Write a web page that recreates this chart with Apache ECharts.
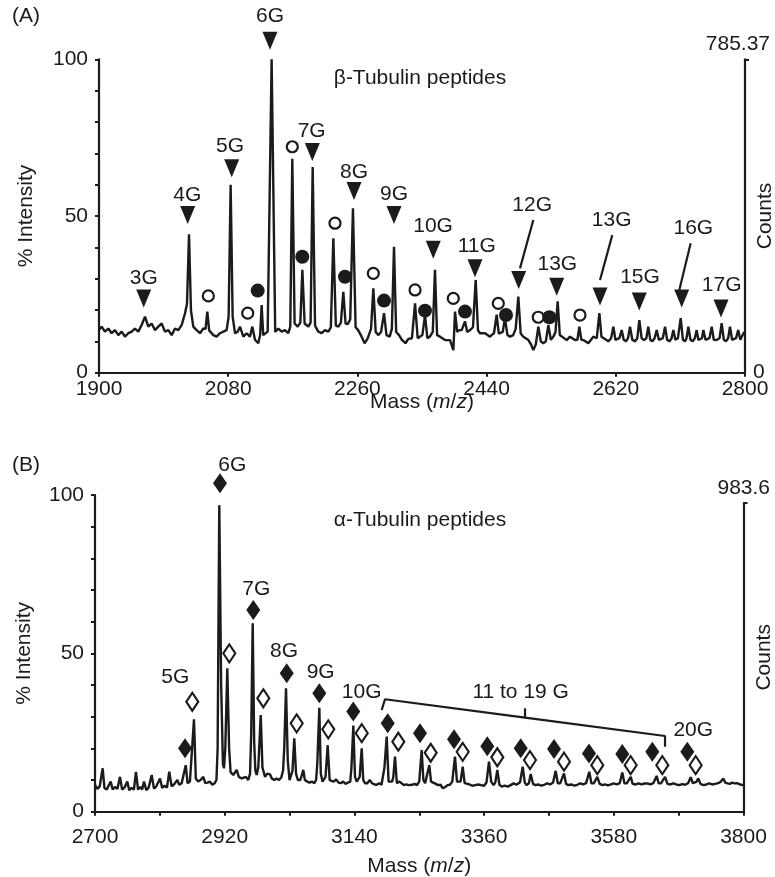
<!DOCTYPE html>
<html><head><meta charset="utf-8">
<script src="https://cdn.jsdelivr.net/npm/echarts@6/dist/echarts.min.js"></script>
<style>html,body{margin:0;padding:0;background:#fff}#c{width:775px;height:877px}</style>
</head><body><div id="c"></div>
<script>
// ---------- Panel A: beta-tubulin spectrum (mass, % intensity) ----------
const betaTrace = [[1900,13.6],[1903.7,14.7],[1908.3,13.1],[1913,14.1],[1917.6,12.6],[1922.3,13.6],[1926.9,12],[1931.6,13.1],[1936.2,11.5],[1940.8,12.6],[1945.5,13.1],[1950.1,14.1],[1954.8,13.1],[1959.4,15.2],[1964.1,17.9],[1968.7,14.7],[1973.3,15.7],[1978,13.6],[1982.6,14.7],[1987.3,15.7],[1991.9,13.1],[1996.6,13.6],[2001.2,12],[2005.9,14.1],[2010.5,13.6],[2015.1,15.2],[2019.8,18.9],[2022.6,22],[2025.4,44.2],[2028.1,19.9],[2031.4,14.7],[2036,13.6],[2040.7,12.6],[2045.3,14.1],[2048.5,14],[2050.9,19.5],[2053.5,13.5],[2059.3,12],[2063.9,11.5],[2068.6,12.6],[2073.2,13.1],[2077.8,13.6],[2080.6,17.9],[2083.4,60],[2086.2,17.9],[2089.5,12.6],[2093.2,13.1],[2096.4,14.7],[2101.1,11.5],[2105.7,12.6],[2110.3,11.5],[2113.6,14.7],[2117.3,10.5],[2121.9,9.4],[2124.5,12],[2126.6,21.6],[2128.8,12],[2130.3,12.6],[2135,13.1],[2140.5,100],[2145.5,13],[2149.8,14.1],[2154.5,13.1],[2159.1,13.6],[2163.8,12.6],[2166.5,14.7],[2169.3,68.3],[2172.5,15.7],[2176.8,14.7],[2180.5,16],[2183.3,32.8],[2186.5,15.7],[2191.6,14.7],[2194.8,16],[2197.7,65.6],[2201,15],[2205.5,13.1],[2210.2,12.6],[2214.8,13.6],[2219.5,13.1],[2223,14.5],[2226.5,42.9],[2230,15],[2233.4,14.7],[2237,16],[2240.4,25.8],[2243.5,15.7],[2246.5,15.5],[2250,17],[2253.8,52.5],[2257.5,14.5],[2261,13.6],[2265.9,11.5],[2270,9.4],[2274,10.8],[2279,14],[2282.2,26.9],[2285.5,13],[2289,12],[2293,13],[2297.1,19],[2300.5,12],[2305,11.5],[2308,14],[2311,40.2],[2314,13],[2318,12],[2322,10.5],[2327,9.4],[2331,10.8],[2336,11],[2340.3,22.1],[2344,11],[2347,11.5],[2350.5,12],[2354.2,18.4],[2357.5,11],[2361,11.5],[2365,13],[2368.1,32.8],[2371,12],[2375.1,11.5],[2382.1,10.4],[2389,10.4],[2393.7,7.2],[2396,19.5],[2399,13],[2402,13.6],[2405.3,13.6],[2409.9,16.4],[2413,13],[2416.9,13.6],[2421,14.5],[2424.8,29.6],[2428,13.5],[2430.8,12.6],[2437.8,12.6],[2444.7,11.5],[2450.3,12.6],[2454,18.5],[2457,12.5],[2459.6,12.6],[2462.5,13],[2465.6,17.5],[2469,12],[2472.6,11.5],[2477,12],[2480.5,14],[2484.2,24.3],[2487.5,12.5],[2491.2,11.5],[2498.2,10.4],[2502,9],[2505.1,7.2],[2508.5,9],[2512.1,14.7],[2515.5,10],[2519,9.4],[2522.5,10],[2526,15.2],[2529.5,10.5],[2533,11.5],[2536,13],[2539,22.8],[2542,12],[2544.6,11.5],[2551.6,10.4],[2556.2,11.5],[2563.2,10.4],[2566.5,10.5],[2569.2,14.7],[2572,10.5],[2574.8,10.4],[2581.7,9.4],[2588.7,11.5],[2593.5,11],[2597.1,19],[2600,11.5],[2602.6,11.5],[2609.6,10],[2613.5,11],[2616.6,14.7],[2619.5,10.5],[2622.1,10],[2625,11],[2628.2,13.6],[2631,10.5],[2634.2,10],[2637,11],[2639.8,14.7],[2643,10.5],[2646.8,10],[2650,11],[2652.8,16.8],[2656,11],[2659.3,10.4],[2662.5,11],[2665.3,14.7],[2668,10.5],[2670.9,10],[2674,11],[2677,13.6],[2680,10.5],[2682.5,10],[2685.5,11],[2688.6,14.7],[2691.5,10.5],[2694.6,10],[2697.5,10.8],[2700.2,13.6],[2703,10.5],[2706.5,11],[2710.4,17.4],[2713.5,10.5],[2716.4,10],[2718.5,11],[2721.1,14.7],[2724,10.5],[2727.1,10],[2730,11],[2732.7,13.6],[2735,10.5],[2737.3,10.4],[2740,11],[2742,13.6],[2745,10.5],[2747.5,10],[2750.5,11],[2753.6,14.7],[2756.5,10.5],[2760.5,10.4],[2764.5,11],[2767.5,15.8],[2770.5,10.5],[2773.5,10],[2776.5,11],[2779.1,14.7],[2782,10.5],[2784.7,10],[2787.5,11],[2790.5,13.6],[2793.5,10.5],[2797.7,12.5],[2800,13]];

const betaTriangles = [[1962.3,23.7],[2023.6,50.3],[2084.9,65.2],[2138.2,105.9],[2197.2,70.4],[2255.3,58],[2311,50.3],[2365.7,39.2],[2423.8,33.3],[2484.7,29.6],[2537.7,27.4],[2598,24.3],[2652.7,22.7],[2711.8,23.7],[2766.6,20.5]];
const betaOpenCircles = [[2052.3,24.5],[2107.2,19],[2169.3,72.1],[2228.8,47.7],[2282.2,31.7],[2340.3,26.4],[2393.6,23.7],[2456.3,22.1],[2512,17.7],[2570.1,18.4]];
const betaFilledCircles = [[2121.1,26.2],[2183.2,37],[2242.7,30.6],[2297.1,23],[2354.2,19.8],[2409.9,19.5],[2467,18.4],[2527.4,17.7]];
const betaPeakLabels = [[1962.3,30.1,'3G'],[2023,56.5,'4G'],[2082.5,72.4,'5G'],[2138.2,113.8,'6G'],[2196.3,77.2,'7G'],[2255.3,63.9,'8G'],[2311,57.1,'9G'],[2365.4,46.6,'10G'],[2426.2,40.5,'11G'],[2503.5,53.5,'12G'],[2538.5,34.7,'13G'],[2614.3,48.7,'13G'],[2653.7,30.4,'15G'],[2728,46.1,'16G'],[2767.5,27.8,'17G']];
const betaLeaders = [[[2505.1,48.7],[2486.5,33.3]],[[2615.1,43.9],[2598,29.6]],[[2724.3,41.3],[2708.5,26.4]]];

// ---------- Panel B: alpha-tubulin spectrum ----------
const alphaTrace = [[2700,8.5],[2704,7.2],[2708,8],[2713,13.7],[2716,7.5],[2720,7],[2723,8.2],[2726.6,9.5],[2730,7],[2734,7.8],[2738,7.2],[2742.4,11],[2746,7],[2750,7.6],[2754.8,9.5],[2758,6.8],[2762,7.5],[2766,7],[2769.5,12.6],[2773,7],[2777,7.8],[2780,7],[2783.1,9.5],[2787,6.8],[2791,7.6],[2796.2,11.6],[2800,7.3],[2804,8],[2807,7.5],[2810.3,10.5],[2814,7.5],[2818,8.2],[2822,7.6],[2826,12.6],[2830,8],[2834,8.6],[2837,8],[2839.6,10],[2843,8.5],[2847,9],[2850,8.8],[2853.9,14.7],[2857,9],[2861,9.5],[2864,10],[2867.9,29.2],[2871,10.5],[2875,9.5],[2879,10],[2883.7,11],[2887,9],[2891,9.2],[2895,9.5],[2899,8.5],[2903,9],[2906,10],[2908,20],[2910.8,96.8],[2914,40],[2917,15],[2918.8,13.7],[2921,20],[2924.4,45.3],[2927.5,20],[2930,12.5],[2934.6,11.6],[2937,12],[2940.3,13.2],[2944,11],[2948.8,10.5],[2952,10.5],[2956,11],[2960,10],[2963,12],[2965,25],[2967.5,59.5],[2970,22],[2972,13],[2974.3,11.6],[2977,14],[2981.1,30.5],[2984,14],[2988.4,11],[2992,12],[2996.8,11.8],[3000,10.5],[3004,10],[3008,10.5],[3012,10],[3016,10.8],[3019,13],[3021,20],[3024,39],[3027,16],[3030,10],[3033,9.5],[3035,13],[3038,23.2],[3041,12],[3044,10],[3048,10],[3050,11],[3053.3,13.2],[3056,10],[3060,9.5],[3064,9.2],[3068,9.5],[3072,9],[3075,10],[3077,15],[3080.5,32.8],[3083,12],[3086,9.5],[3089,9.5],[3091,11],[3094.7,21],[3098,10],[3101,9.5],[3105,9.5],[3109,10.2],[3113,9.2],[3117,9],[3121,9.5],[3125,8.8],[3129,9.2],[3133,9.5],[3135,14],[3138.2,27.2],[3141,11],[3144,9.5],[3147,9.8],[3149,11],[3152.4,20],[3155,10],[3158,9],[3162,9],[3166,10],[3170,9],[3174,8.6],[3178,8.5],[3182,9],[3186,8.5],[3189,9],[3191,14],[3194.8,23.7],[3198,9.5],[3201,9],[3204,9.5],[3206,11],[3208.9,17.4],[3212,9],[3216,9.5],[3220,9],[3224,8.4],[3228,8.6],[3232,8.4],[3234.3,7.9],[3238,8.5],[3242,8.8],[3246,8.4],[3250,9.5],[3254.1,19.5],[3257,10],[3260,9],[3263,9.5],[3267,14.7],[3270,9.5],[3273,8.95],[3278,8.8],[3282,8.4],[3286,8.5],[3290,7.4],[3294,7.8],[3298,8.4],[3302,8.5],[3306,9.5],[3310.6,17.4],[3314,9.5],[3317,8.95],[3320,9.5],[3323.7,14.2],[3327,9],[3330,8.4],[3335,8.6],[3340,8.2],[3345,8.4],[3350,8.6],[3355,8.4],[3360,8.2],[3364,9.2],[3368.3,15.8],[3372,9.5],[3376,8.4],[3379,9.2],[3382.4,13.2],[3386,8.5],[3390,7.9],[3395,8.2],[3400,7.9],[3405,8.4],[3410,8.95],[3415,8.5],[3421,9.3],[3425.5,14.2],[3429,9.2],[3432,8.4],[3436,9],[3439,11.9],[3443,8.8],[3447,8.4],[3452,8.6],[3457,8.2],[3462,8.5],[3467,8.95],[3472,8.6],[3477,9.2],[3481.4,12.9],[3485,9],[3489,8.95],[3492,9.3],[3495.5,12.1],[3499,8.8],[3503,8.4],[3508,8.6],[3513,8.2],[3518,8.5],[3523,8.95],[3528,8.6],[3533,9],[3538.4,12.6],[3542,9],[3546,8.95],[3549,9.4],[3552,11],[3556,8.8],[3561,8.4],[3565,8.6],[3570,8.3],[3575,8.6],[3580,8.95],[3585,8.6],[3590,9],[3594.4,12.4],[3598,9],[3602,8.95],[3605,9.4],[3608.7,11],[3612,8.8],[3617,8.6],[3622,8.95],[3627,8.6],[3632,8.9],[3637,8.95],[3642,8.6],[3647,9],[3652.7,11.3],[3656,9],[3660,8.95],[3663,9.4],[3667,11],[3671,8.8],[3676,8.6],[3681,8.95],[3686,8.6],[3691,8.4],[3696,8.7],[3701,8.5],[3706,9],[3710.4,10.9],[3714,9],[3717,9.2],[3720,9.4],[3723.4,10.5],[3727,8.8],[3732,8.4],[3737,8.6],[3742,8.95],[3747,8.6],[3752,8.8],[3757,9],[3761,9.4],[3765.7,10.5],[3769,9.2],[3773,8.95],[3777,8.8],[3781,9.2],[3785,8.95],[3789,9],[3794,8.6],[3800,8.4]];

const alphaFilledDiamonds = [[2852.7,20],[2912,103.7],[2968.5,63.7],[3025.2,43.7],[3080.5,37.4],[3138.1,31.6],[3196.5,27.9],[3251.3,24.8],[3309,22.9],[3365.4,20.7],[3422.1,20],[3478.6,19.8],[3537.9,18.4],[3594.4,18.2],[3645.3,18.9],[3704.7,18.9]];
const alphaOpenDiamonds = [[2865,34.7],[2927.8,50],[2985.5,35.8],[3042.1,27.9],[3095.7,26],[3152.4,24.8],[3214.5,22.1],[3269.4,18.6],[3323.7,18.9],[3382.4,17.2],[3437.8,16.3],[3495.5,15.8],[3552,14.7],[3608.6,14.7],[3662.3,14.7],[3718.9,14.7]];
const alphaPeakLabels = [[2836.2,42.4,'5G'],[2932.9,109.3,'6G'],[2973.6,70.3,'7G'],[3020.6,50.8,'8G'],[3082.8,44.1,'9G'],[3152.4,37.6,'10G'],[3422,37.7,'11 to 19 G'],[3714.8,25.7,'20G']];
const alphaBracket = [[3186.3,32.1],[3191.9,35.5],[3429.4,29.7],[3429.4,32.7],[3429.4,29.7],[3666.9,23.9],[3666.9,20.5]];

// ---------- axis ticks ----------
const betaXLabels = [1900,2080,2260,2440,2620,2800];
const alphaXLabels = [2700,2920,3140,3360,3580,3800];
const alphaXTicks = [2700,2810,2920,3030,3140,3250,3360,3470,3580,3690,3800];
const betaCountsMax = 785.37;
const alphaCountsMax = 983.6;

const INK = '#1c1a1b';
const FONT = '"Liberation Sans", Arial, Helvetica, sans-serif';
const FS = 21;

function axisBase(){
  return {
    axisLine:{show:true,onZero:false,lineStyle:{color:INK,width:2.2}},
    splitLine:{show:false},
    axisLabel:{color:INK,fontFamily:FONT,fontSize:FS,formatter:v=>String(v),hideOverlap:false},
    axisTick:{lineStyle:{color:INK,width:2},length:4},
    nameMoveOverlap:false
  };
}
function marks(data, xi, yi, symbol, size, filled, rotate){
  return {
    type:'scatter', xAxisIndex:xi, yAxisIndex:yi, data:data, symbol:symbol,
    symbolSize:size, symbolRotate:rotate||0, clip:false, silent:true, z:5,
    itemStyle: filled ? {color:INK, opacity:1} : {color:'#fff', borderColor:INK, borderWidth:2.2, opacity:1}
  };
}
function labels(data, xi, yi){
  return {
    type:'scatter', xAxisIndex:xi, yAxisIndex:yi, data:data, symbolSize:1, clip:false, silent:true, z:6,
    itemStyle:{color:'rgba(0,0,0,0)', opacity:1},
    label:{show:true, position:'inside', formatter:p=>p.value[2], color:INK, opacity:1, fontFamily:FONT, fontSize:FS}
  };
}
function leader(pts, xi, yi){
  return {type:'line', xAxisIndex:xi, yAxisIndex:yi, data:pts, symbol:'none', clip:false, silent:true,
    lineStyle:{color:INK,width:2.2}, z:4};
}
const massName = '{a|Mass (}{i|m}{a|/}{i|z}{a|)}';
const nameRich = {a:{fontFamily:FONT,fontSize:FS,color:INK}, i:{fontFamily:FONT,fontSize:FS,color:INK,fontStyle:'italic'}};

const xA = Object.assign(axisBase(), {gridIndex:0, type:'value', min:1900, max:2800,
  name:massName, nameLocation:'middle', nameGap:19, nameTextStyle:{rich:nameRich}});
xA.axisLabel = Object.assign(xA.axisLabel, {customValues:betaXLabels, margin:6});
xA.axisTick = Object.assign(xA.axisTick, {customValues:betaXLabels});

const xB = Object.assign(axisBase(), {gridIndex:1, type:'value', min:2700, max:3800,
  name:massName, nameLocation:'middle', nameGap:44, nameTextStyle:{rich:nameRich}});
xB.axisLabel = Object.assign(xB.axisLabel, {customValues:alphaXLabels, margin:15});
xB.axisTick = Object.assign(xB.axisTick, {customValues:alphaXTicks});

const xHidden = {gridIndex:2, type:'value', min:0, max:1, show:false};

function yLeft(gi, gap){
  const a = Object.assign(axisBase(), {gridIndex:gi, type:'value', min:0, max:100, interval:50, position:'left',
    name:'% Intensity', nameLocation:'middle', nameGap:gap, nameRotate:90,
    nameTextStyle:{fontFamily:FONT,fontSize:FS,color:INK},
    minorTick:{show:true, splitNumber:5, length:4, lineStyle:{color:INK,width:2}}});
  a.axisTick.show = true;
  a.axisLabel.margin = 11;
  return a;
}
function yRight(gi, max, showZero){
  const a = Object.assign(axisBase(), {gridIndex:gi, type:'value', min:0, max:max, position:'right',
    name:'Counts', nameLocation:'middle', nameGap:10, nameRotate:90,
    nameTextStyle:{fontFamily:FONT,fontSize:FS,color:INK}});
  a.axisLabel = Object.assign(a.axisLabel, {customValues: showZero ? [0] : [], margin:8, show:showZero});
  a.axisTick = Object.assign(a.axisTick, {customValues:[max], length:4});
  return a;
}

const option = {
  animation:false,
  backgroundColor:'#fff',
  grid:[
    {left:99, top:59.3, width:646, height:313.4, outerBoundsMode:'none', containLabel:false},
    {left:95, top:495, width:648.5, height:316.7, outerBoundsMode:'none', containLabel:false},
    {left:95, top:503, width:648.5, height:308.7, outerBoundsMode:'none', containLabel:false}
  ],
  xAxis:[xA, xB, xHidden],
  yAxis:[yLeft(0,62), yRight(0,betaCountsMax,true), yLeft(1,60), yRight(2,alphaCountsMax,false)],
  series:[
    {type:'line', xAxisIndex:0, yAxisIndex:0, data:betaTrace, symbol:'none', silent:true,
      lineStyle:{color:INK,width:2.4}, z:3},
    marks(betaTriangles,0,0,'triangle',[15,18],true,180),
    marks(betaOpenCircles,0,0,'circle',11,false),
    marks(betaFilledCircles,0,0,'circle',14,true),
    labels(betaPeakLabels,0,0),
    leader(betaLeaders[0],0,0), leader(betaLeaders[1],0,0), leader(betaLeaders[2],0,0),
    {type:'line', xAxisIndex:1, yAxisIndex:2, data:alphaTrace, symbol:'none', silent:true,
      lineStyle:{color:INK,width:2.4}, z:3},
    marks(alphaFilledDiamonds,1,2,'diamond',[14,20],true),
    marks(alphaOpenDiamonds,1,2,'diamond',[12,18],false),
    labels(alphaPeakLabels,1,2),
    leader(alphaBracket,1,2)
  ],
  graphic:[
    {type:'text', left:12, top:6, style:{text:'(A)', fontFamily:FONT, fontSize:FS, fill:INK}},
    {type:'text', left:12, top:455, style:{text:'(B)', fontFamily:FONT, fontSize:FS, fill:INK}},
    {type:'text', x:420, y:78, style:{text:'β-Tubulin peptides', fontFamily:FONT, fontSize:FS, fill:INK, align:'center', verticalAlign:'middle'}},
    {type:'text', x:420, y:520, style:{text:'α-Tubulin peptides', fontFamily:FONT, fontSize:FS, fill:INK, align:'center', verticalAlign:'middle'}},
    {type:'text', x:770, y:44, style:{text:String(betaCountsMax), fontFamily:FONT, fontSize:FS, fill:INK, align:'right', verticalAlign:'middle'}},
    {type:'text', x:770, y:488, style:{text:String(alphaCountsMax), fontFamily:FONT, fontSize:FS, fill:INK, align:'right', verticalAlign:'middle'}}
  ]
};
const chart = echarts.init(document.getElementById('c'));
chart.setOption(option);
</script></body></html>
